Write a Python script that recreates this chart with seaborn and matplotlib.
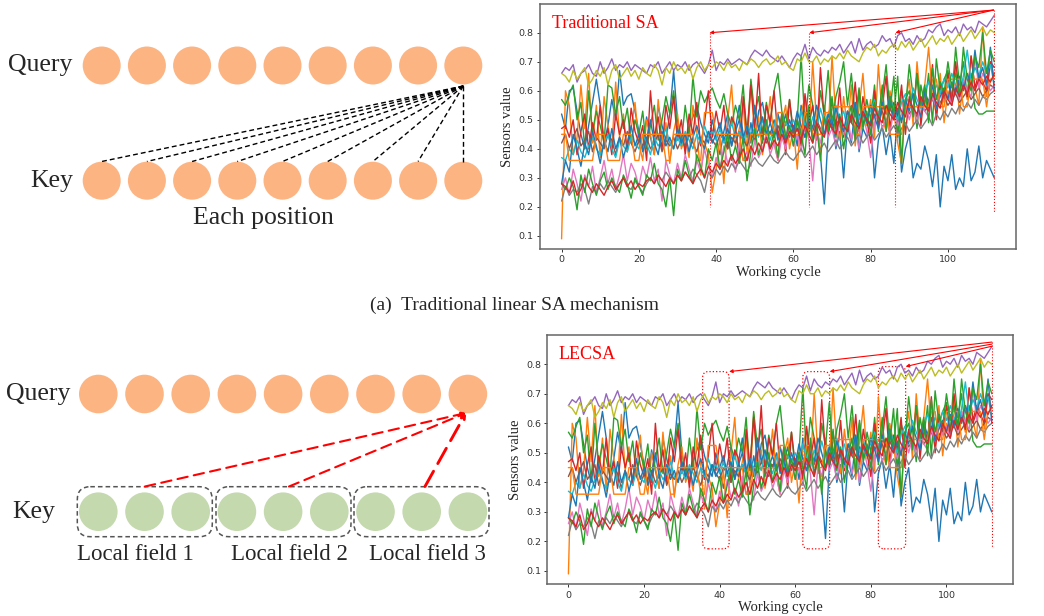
import matplotlib
matplotlib.use('Agg')
import matplotlib.pyplot as plt
from matplotlib.patches import Circle, FancyBboxPatch
import seaborn as sns
import pandas as pd

# sensor readings per working cycle (113 cycles)
blue_a = [0.52,0.47,0.60,0.61,0.53,0.45,0.40,0.48,0.56,0.64,
          0.55,0.42,0.48,0.57,0.50,0.67,0.55,0.58,0.59,0.53,
          0.46,0.40,0.51,0.44,0.38,0.55,0.48,0.43,0.52,0.67,
          0.50,0.44,0.40,0.47,0.51,0.55,0.49,0.45,0.42,0.50,
          0.44,0.38,0.46,0.52,0.41,0.47,0.55,0.45,0.40,0.49,
          0.42,0.53,0.56,0.48,0.45,0.50,0.43,0.47,0.52,0.44,
          0.48,0.41,0.55,0.46,0.52,0.43,0.49,0.38,0.21,0.45,
          0.51,0.40,0.46,0.30,0.48,0.42,0.55,0.39,0.47,0.44,
          0.50,0.30,0.43,0.48,0.38,0.46,0.35,0.52,0.32,0.40,
          0.45,0.30,0.35,0.33,0.41,0.36,0.27,0.38,0.20,0.34,
          0.29,0.38,0.26,0.30,0.27,0.40,0.29,0.32,0.41,0.30,
          0.36,0.33,0.30]
orange_a = [0.09,0.60,0.55,0.38,0.44,0.62,0.47,0.66,0.42,0.55,
            0.37,0.58,0.48,0.40,0.63,0.44,0.52,0.39,0.47,0.56,
            0.42,0.36,0.50,0.45,0.38,0.57,0.43,0.49,0.35,0.46,
            0.52,0.40,0.44,0.37,0.55,0.46,0.31,0.42,0.38,0.25,
            0.33,0.44,0.28,0.50,0.62,0.41,0.47,0.55,0.39,0.63,
            0.44,0.51,0.38,0.46,0.58,0.42,0.36,0.49,0.55,0.40,
            0.47,0.33,0.52,0.58,0.44,0.70,0.49,0.38,0.55,0.46,
            0.72,0.50,0.43,0.58,0.47,0.62,0.41,0.54,0.66,0.48,
            0.57,0.44,0.69,0.51,0.46,0.60,0.53,0.42,0.35,0.56,
            0.64,0.48,0.70,0.55,0.62,0.75,0.58,0.52,0.66,0.49,
            0.60,0.55,0.68,0.52,0.63,0.57,0.72,0.61,0.55,0.82,
            0.58,0.70,0.65]
green_a = [0.57,0.55,0.59,0.62,0.50,0.56,0.40,0.60,0.46,0.53,
           0.48,0.42,0.62,0.61,0.52,0.58,0.47,0.54,0.42,0.50,
           0.45,0.53,0.40,0.48,0.55,0.43,0.50,0.58,0.52,0.60,
           0.47,0.42,0.55,0.45,0.65,0.51,0.60,0.56,0.59,0.61,
           0.57,0.54,0.59,0.52,0.48,0.55,0.50,0.62,0.44,0.64,
           0.52,0.58,0.45,0.56,0.49,0.60,0.66,0.53,0.48,0.57,
           0.44,0.50,0.72,0.48,0.62,0.55,0.45,0.60,0.52,0.67,
           0.49,0.58,0.63,0.70,0.55,0.66,0.51,0.61,0.48,0.57,
           0.50,0.62,0.46,0.58,0.69,0.53,0.65,0.44,0.60,0.54,
           0.69,0.58,0.47,0.62,0.55,0.66,0.49,0.71,0.60,0.64,
           0.67,0.57,0.75,0.62,0.70,0.58,0.66,0.54,0.52,0.52,
           0.53,0.53,0.53]
red_a = [0.47,0.48,0.44,0.50,0.38,0.46,0.52,0.40,0.49,0.43,
         0.55,0.41,0.47,0.38,0.52,0.45,0.50,0.39,0.54,0.46,
         0.42,0.48,0.36,0.60,0.44,0.51,0.40,0.55,0.47,0.58,
         0.43,0.50,0.38,0.52,0.45,0.56,0.41,0.49,0.60,0.44,
         0.53,0.46,0.55,0.40,0.51,0.48,0.36,0.58,0.45,0.62,
         0.47,0.66,0.42,0.55,0.49,0.60,0.44,0.52,0.38,0.57,
         0.46,0.50,0.41,0.59,0.48,0.55,0.43,0.68,0.50,0.45,
         0.57,0.47,0.61,0.44,0.53,0.49,0.63,0.46,0.58,0.50,
         0.42,0.60,0.48,0.54,0.65,0.47,0.56,0.51,0.62,0.45,
         0.58,0.52,0.66,0.48,0.60,0.54,0.69,0.50,0.63,0.57,
         0.66,0.55,0.70,0.59,0.64,0.58,0.72,0.61,0.66,0.63,
         0.60,0.70,0.68]
purple = [0.66,0.68,0.67,0.69,0.63,0.66,0.67,0.69,0.66,0.65,
          0.70,0.66,0.68,0.71,0.67,0.69,0.68,0.70,0.67,0.69,
          0.68,0.67,0.66,0.69,0.68,0.70,0.66,0.68,0.70,0.67,
          0.69,0.68,0.70,0.67,0.69,0.70,0.68,0.66,0.69,0.74,
          0.67,0.70,0.69,0.71,0.69,0.70,0.71,0.70,0.69,0.72,
          0.74,0.73,0.72,0.74,0.72,0.71,0.70,0.72,0.70,0.68,
          0.71,0.73,0.72,0.76,0.71,0.75,0.73,0.72,0.74,0.73,
          0.75,0.74,0.76,0.73,0.75,0.77,0.73,0.78,0.74,0.76,
          0.77,0.75,0.76,0.79,0.77,0.78,0.75,0.79,0.80,0.77,
          0.78,0.76,0.79,0.77,0.78,0.81,0.80,0.82,0.83,0.79,
          0.81,0.80,0.82,0.79,0.83,0.81,0.82,0.80,0.84,0.83,
          0.82,0.84,0.86]
brown = [0.42,0.45,0.40,0.44,0.47,0.41,0.43,0.46,0.39,0.44,
         0.42,0.40,0.45,0.43,0.38,0.44,0.41,0.46,0.42,0.39,
         0.43,0.41,0.44,0.40,0.42,0.45,0.39,0.43,0.41,0.44,
         0.40,0.43,0.41,0.45,0.42,0.39,0.44,0.42,0.46,0.43,
         0.41,0.45,0.43,0.40,0.44,0.42,0.46,0.43,0.41,0.45,
         0.43,0.47,0.44,0.42,0.46,0.44,0.48,0.45,0.43,0.47,
         0.45,0.49,0.46,0.44,0.48,0.46,0.50,0.47,0.45,0.49,
         0.47,0.50,0.48,0.46,0.51,0.49,0.47,0.52,0.49,0.51,
         0.48,0.52,0.50,0.53,0.49,0.54,0.51,0.53,0.50,0.55,
         0.52,0.54,0.51,0.56,0.53,0.55,0.57,0.54,0.56,0.58,
         0.55,0.57,0.59,0.56,0.58,0.60,0.57,0.59,0.61,0.58,
         0.60,0.62,0.61]
pink = [0.26,0.30,0.24,0.33,0.28,0.22,0.31,0.27,0.34,0.25,
        0.30,0.36,0.28,0.33,0.26,0.31,0.38,0.29,0.35,0.32,
        0.27,0.34,0.30,0.37,0.29,0.33,0.22,0.36,0.31,0.28,
        0.35,0.30,0.38,0.33,0.29,0.36,0.32,0.40,0.34,0.30,
        0.37,0.33,0.41,0.35,0.38,0.32,0.42,0.36,0.39,0.34,
        0.43,0.37,0.40,0.45,0.38,0.42,0.36,0.44,0.40,0.47,
        0.41,0.45,0.39,0.48,0.43,0.29,0.46,0.42,0.50,0.44,
        0.47,0.41,0.49,0.45,0.51,0.43,0.48,0.40,0.52,0.46,
        0.37,0.49,0.53,0.47,0.50,0.45,0.54,0.48,0.52,0.56,
        0.50,0.55,0.49,0.57,0.53,0.51,0.58,0.54,0.60,0.56,
        0.59,0.55,0.62,0.57,0.64,0.60,0.58,0.72,0.61,0.66,
        0.63,0.60,0.62]
gray = [0.22,0.27,0.24,0.26,0.25,0.28,0.26,0.21,0.27,0.25,
        0.28,0.26,0.29,0.27,0.25,0.28,0.30,0.27,0.26,0.29,
        0.27,0.25,0.28,0.30,0.28,0.31,0.29,0.32,0.30,0.28,
        0.31,0.29,0.32,0.30,0.33,0.31,0.29,0.25,0.32,0.30,
        0.33,0.31,0.34,0.32,0.35,0.33,0.36,0.34,0.32,0.35,
        0.37,0.35,0.34,0.36,0.38,0.36,0.35,0.37,0.39,0.37,
        0.36,0.38,0.40,0.37,0.39,0.41,0.38,0.40,0.42,0.39,
        0.41,0.43,0.40,0.42,0.44,0.41,0.43,0.45,0.42,0.44,
        0.46,0.43,0.45,0.47,0.44,0.46,0.48,0.45,0.47,0.49,
        0.46,0.48,0.50,0.47,0.49,0.51,0.48,0.52,0.50,0.53,
        0.51,0.54,0.52,0.55,0.53,0.56,0.54,0.57,0.55,0.58,
        0.57,0.59,0.60]
olive = [0.66,0.65,0.63,0.67,0.64,0.66,0.68,0.62,0.64,0.67,
         0.65,0.68,0.62,0.67,0.69,0.64,0.66,0.68,0.65,0.67,
         0.64,0.68,0.66,0.65,0.69,0.67,0.62,0.68,0.66,0.70,
         0.67,0.68,0.66,0.69,0.64,0.68,0.70,0.67,0.69,0.68,
         0.70,0.69,0.67,0.70,0.68,0.69,0.67,0.70,0.69,0.71,
         0.70,0.68,0.70,0.71,0.69,0.70,0.72,0.69,0.70,0.68,
         0.67,0.71,0.70,0.73,0.70,0.70,0.72,0.69,0.71,0.70,
         0.72,0.71,0.73,0.71,0.74,0.72,0.71,0.70,0.73,0.75,
         0.74,0.76,0.72,0.74,0.73,0.75,0.76,0.74,0.77,0.75,
         0.77,0.74,0.76,0.78,0.75,0.77,0.79,0.76,0.78,0.77,
         0.79,0.76,0.78,0.80,0.77,0.79,0.81,0.78,0.80,0.82,
         0.79,0.81,0.80]
cyan = [0.37,0.36,0.40,0.38,0.43,0.39,0.37,0.41,0.44,0.40,
        0.38,0.42,0.45,0.40,0.37,0.43,0.41,0.39,0.44,0.42,
        0.40,0.45,0.42,0.38,0.44,0.41,0.43,0.47,0.42,0.40,
        0.44,0.41,0.46,0.43,0.40,0.45,0.42,0.48,0.44,0.46,
        0.43,0.47,0.42,0.45,0.49,0.44,0.46,0.43,0.48,0.45,
        0.47,0.44,0.50,0.46,0.43,0.48,0.52,0.45,0.49,0.47,
        0.50,0.46,0.53,0.48,0.45,0.51,0.47,0.54,0.49,0.52,
        0.48,0.55,0.50,0.53,0.47,0.52,0.56,0.50,0.54,0.51,
        0.53,0.57,0.51,0.55,0.52,0.58,0.54,0.50,0.56,0.59,
        0.55,0.61,0.57,0.54,0.60,0.63,0.58,0.62,0.59,0.64,
        0.61,0.66,0.62,0.59,0.65,0.74,0.63,0.68,0.65,0.70,
        0.66,0.69,0.62]
blue_b = [0.28,0.36,0.32,0.45,0.40,0.34,0.42,0.38,0.46,0.41,
          0.35,0.43,0.39,0.47,0.40,0.44,0.37,0.42,0.48,0.41,
          0.45,0.39,0.43,0.50,0.42,0.38,0.46,0.41,0.44,0.40,
          0.47,0.42,0.45,0.39,0.44,0.48,0.43,0.40,0.46,0.42,
          0.45,0.49,0.43,0.47,0.41,0.46,0.50,0.44,0.48,0.42,
          0.55,0.47,0.51,0.45,0.49,0.44,0.52,0.47,0.43,0.50,
          0.46,0.53,0.48,0.44,0.51,0.47,0.55,0.50,0.45,0.52,
          0.48,0.54,0.49,0.46,0.53,0.50,0.56,0.47,0.52,0.49,
          0.55,0.51,0.47,0.56,0.52,0.58,0.50,0.54,0.49,0.57,
          0.53,0.59,0.55,0.51,0.60,0.56,0.62,0.54,0.58,0.61,
          0.57,0.63,0.59,0.65,0.60,0.66,0.62,0.74,0.64,0.68,
          0.62,0.75,0.60]
orange_b = [0.45,0.45,0.36,0.36,0.36,0.36,0.36,0.36,0.36,0.45,
            0.45,0.45,0.36,0.36,0.36,0.36,0.45,0.45,0.45,0.36,
            0.36,0.45,0.45,0.45,0.45,0.45,0.45,0.36,0.36,0.45,
            0.45,0.45,0.45,0.45,0.45,0.36,0.36,0.525,0.525,0.525,
            0.45,0.45,0.45,0.45,0.45,0.45,0.45,0.36,0.36,0.45,
            0.45,0.45,0.45,0.45,0.45,0.45,0.525,0.525,0.45,0.45,
            0.45,0.45,0.45,0.525,0.525,0.45,0.45,0.45,0.525,0.525,
            0.545,0.545,0.545,0.545,0.545,0.545,0.45,0.45,0.545,0.545,
            0.545,0.545,0.545,0.545,0.545,0.45,0.45,0.45,0.45,0.545,
            0.545,0.545,0.545,0.545,0.545,0.545,0.64,0.64,0.545,0.545,
            0.64,0.64,0.64,0.64,0.545,0.545,0.64,0.64,0.64,0.64,
            0.545,0.64,0.64]
green_b = [0.28,0.26,0.30,0.27,0.19,0.31,0.25,0.33,0.28,0.24,
           0.29,0.32,0.26,0.30,0.27,0.25,0.31,0.28,0.23,0.30,
           0.27,0.24,0.31,0.29,0.35,0.28,0.26,0.20,0.30,0.17,
           0.33,0.29,0.36,0.31,0.28,0.38,0.34,0.30,0.40,0.36,
           0.42,0.33,0.39,0.45,0.36,0.41,0.35,0.44,0.29,0.39,
           0.47,0.38,0.43,0.50,0.40,0.46,0.37,0.52,0.44,0.48,
           0.41,0.50,0.45,0.38,0.55,0.42,0.48,0.36,0.51,0.46,
           0.58,0.44,0.52,0.40,0.49,0.55,0.43,0.60,0.47,0.53,
           0.45,0.56,0.50,0.62,0.46,0.58,0.52,0.65,0.35,0.57,
           0.60,0.51,0.66,0.55,0.62,0.49,0.68,0.57,0.63,0.59,
           0.70,0.61,0.66,0.58,0.75,0.64,0.60,0.72,0.68,0.80,
           0.66,0.74,0.70]
red_b = [0.28,0.27,0.25,0.29,0.24,0.26,0.30,0.27,0.25,0.28,
         0.26,0.24,0.27,0.29,0.26,0.28,0.30,0.27,0.29,0.26,
         0.28,0.27,0.29,0.30,0.28,0.31,0.29,0.27,0.30,0.28,
         0.31,0.29,0.32,0.30,0.28,0.31,0.33,0.30,0.34,0.32,
         0.35,0.33,0.36,0.34,0.38,0.35,0.37,0.40,0.36,0.41,
         0.38,0.42,0.39,0.44,0.40,0.43,0.41,0.45,0.42,0.46,
         0.44,0.47,0.43,0.48,0.45,0.42,0.49,0.46,0.44,0.50,
         0.47,0.45,0.51,0.48,0.46,0.52,0.49,0.47,0.53,0.50,
         0.48,0.54,0.51,0.49,0.55,0.52,0.50,0.56,0.53,0.51,
         0.57,0.54,0.52,0.58,0.55,0.53,0.59,0.56,0.54,0.60,
         0.57,0.55,0.61,0.58,0.62,0.59,0.63,0.60,0.64,0.62,
         0.65,0.63,0.66]

sensor_names = ['s1', 's2', 's3', 's4', 's5', 's6', 's7', 's8', 's9', 's10',
                's11', 's12', 's13', 's14']
sensor_values = [blue_a, orange_a, green_a, red_a, purple, brown, pink, gray,
                 olive, cyan, blue_b, orange_b, green_b, red_b]

rows = []
for name, vals in zip(sensor_names, sensor_values):
    for cyc, v in enumerate(vals):
        rows.append({'sensor': name, 'cycle': cyc, 'value': v})
df = pd.DataFrame(rows)

# matplotlib default colour cycle, wrapping after ten sensors
tab = sns.color_palette('tab10', 10)
palette = [tab[i % 10] for i in range(len(sensor_names))]

sns.set_style('ticks')
plt.rcParams['font.family'] = ['DejaVu Sans']
SERIF = 'Liberation Serif'

fig = plt.figure(figsize=(10.44, 6.16), dpi=100)

# ---------- left diagrams, drawn in pixel coordinates ----------
dg = fig.add_axes([0, 0, 1, 1])
dg.set_xlim(0, 1044)
dg.set_ylim(616, 0)
dg.axis('off')

PEACH = '#fdb483'
SAGE = '#c4d9ae'

# (a) traditional: every key position linked to the last query
top_x = [101.7 + 45.2 * i for i in range(9)]
for x in top_x:
    dg.add_patch(Circle((x, 65.5), 19, color=PEACH, lw=0))
    dg.add_patch(Circle((x, 180.7), 19, color=PEACH, lw=0))
for x in top_x:
    dg.plot([top_x[-1], x], [86, 161.5], color='black', lw=1.0,
            dashes=(3.5, 2.2))
dg.text(72, 65.5, 'Query', family=SERIF, fontsize=18.5, ha='right', va='center')
dg.text(73, 180.7, 'Key', family=SERIF, fontsize=18.5, ha='right', va='center')
dg.text(263, 218, 'Each position', family=SERIF, fontsize=18.5,
        ha='center', va='center')
dg.text(515, 305, '(a)  Traditional linear SA mechanism', family=SERIF,
        fontsize=14, ha='center', va='center')

# (b) LECSA: one link per local field
bot_x = [98.3 + 46.2 * i for i in range(9)]
for x in bot_x:
    dg.add_patch(Circle((x, 394), 19.3, color=PEACH, lw=0))
    dg.add_patch(Circle((x, 511.7), 19.3, color=SAGE, lw=0))
field_left = [77.3, 216, 354]
for fx in field_left:
    dg.add_patch(FancyBboxPatch((fx, 486.7), 135, 50,
                                boxstyle='round,pad=0,rounding_size=13',
                                fill=False, ec='#555555', lw=1.1,
                                ls=(0, (3, 2))))
field_labels = ['Local field 1', 'Local field 2', 'Local field 3']
field_centres = [135, 289, 427]
for lab, cx in zip(field_labels, field_centres):
    dg.text(cx, 555, lab, family=SERIF, fontsize=16.5, ha='center', va='center')
dg.text(70, 394, 'Query', family=SERIF, fontsize=18.5, ha='right', va='center')
dg.text(55, 511.7, 'Key', family=SERIF, fontsize=18.5, ha='right', va='center')
for sx, lw, dash in [(145, 1.5, (5, 3)), (289, 1.5, (5, 3)), (425, 2.1, (6, 3))]:
    dg.annotate('', xy=(466, 413), xytext=(sx, 486.5),
                arrowprops=dict(arrowstyle='->', color='red', lw=lw,
                                linestyle=(0, dash), shrinkA=0, shrinkB=0,
                                mutation_scale=6))


# ---------- right: sensor curves ----------
def sensor_panel(rect, label):
    ax = fig.add_axes(rect)
    sns.lineplot(data=df, x='cycle', y='value', hue='sensor',
                 hue_order=sensor_names, palette=palette, lw=1.0,
                 legend=False, ax=ax)
    ax.set_xlim(-5.6, 117.6)
    ax.set_ylim(0.055, 0.899)
    ax.set_xticks([0, 20, 40, 60, 80, 100])
    ax.set_yticks([0.1, 0.2, 0.3, 0.4, 0.5, 0.6, 0.7, 0.8])
    ax.tick_params(labelsize=6.8, length=2.5, width=0.7, colors='#333333',
                   pad=2)
    for sp in ax.spines.values():
        sp.set_color('#666666')
        sp.set_linewidth(1.1)
    ax.set_xlabel('Working cycle', family=SERIF, fontsize=10.5, labelpad=1)
    ax.set_ylabel('Sensors value', family=SERIF, fontsize=10.5, labelpad=3)
    ax.text(0.025, 0.955, label, transform=ax.transAxes, color='red',
            family=SERIF, fontsize=13, ha='left', va='top')
    return ax


ax1 = sensor_panel([0.5172, 0.5958, 0.4559, 0.3977], 'Traditional SA')
marks = [38.3, 64.1, 86.4]
for mx in marks:
    ax1.annotate('', xy=(mx, 0.80), xytext=(111.8, 0.878),
                 arrowprops=dict(arrowstyle='-|>', color='red', lw=0.8,
                                 mutation_scale=5, shrinkA=0, shrinkB=0))
    ax1.plot([mx, mx], [0.80, 0.20], color='red', lw=0.8, ls=':')
ax1.plot([112, 112], [0.878, 0.18], color='red', lw=0.8, ls=':')

ax2 = sensor_panel([0.5242, 0.0515, 0.4461, 0.4047], 'LECSA')
windows = [(35.5, 42.5, 0.775), (62.0, 69.1, 0.775), (82.0, 89.2, 0.792)]
tails = [0.875, 0.868, 0.861]
for (x0, x1, top), ty in zip(windows, tails):
    ax2.add_patch(FancyBboxPatch((x0, 0.175), x1 - x0, top - 0.175,
                                 boxstyle='round,pad=0,rounding_size=1.5',
                                 mutation_aspect=0.013, fill=False,
                                 ec='red', lw=0.9, ls=':'))
    ax2.annotate('', xy=(x1, top), xytext=(112, ty),
                 arrowprops=dict(arrowstyle='-|>', color='red', lw=0.8,
                                 mutation_scale=5, shrinkA=0, shrinkB=0))
ax2.plot([112, 112], [0.875, 0.18], color='red', lw=0.8, ls=':')

fig.savefig('out.png', dpi=100)
